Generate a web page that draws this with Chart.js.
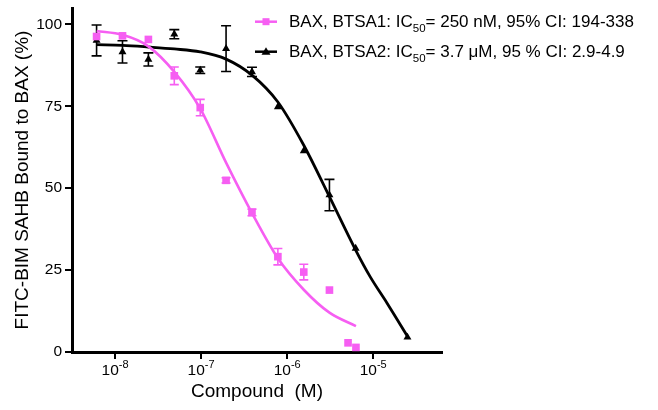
<!DOCTYPE html>
<html>
<head>
<meta charset="utf-8">
<script src="https://cdn.jsdelivr.net/npm/chart.js@4.4.1/dist/chart.umd.min.js"></script>
<style>
  html, body { margin: 0; padding: 0; background: #fff; }
</style>
</head>
<body>
<canvas id="myChart" width="658" height="410"></canvas>
<script>
// concentrations (M), serial 2-fold dilution
const concBTSA1 = [6.1e-9, 1.22e-8, 2.44e-8, 4.88e-8, 9.77e-8, 1.95e-7, 3.9e-7, 7.8e-7, 1.56e-6, 3.1e-6, 5.1e-6, 6.3e-6];
const boundBTSA1 = [96.3, 96.5, 95.4, 84.3, 74.6, 52.4, 42.6, 29.1, 24.4, 18.9, 2.8, 1.4];
const errBTSA1 = [0, 0, 0, 2.7, 2.5, 0.8, 1.0, 2.5, 2.4, 0, 0, 0];

const concBTSA2 = [6.1e-9, 1.22e-8, 2.44e-8, 4.88e-8, 9.77e-8, 1.95e-7, 3.9e-7, 7.8e-7, 1.56e-6, 3.1e-6, 6.25e-6, 2.5e-5];
const boundBTSA2 = [95.1, 91.6, 89.3, 97.0, 86.0, 92.6, 85.5, 74.8, 61.4, 47.9, 31.6, 4.5];
const errBTSA2 = [4.7, 3.4, 2.0, 1.4, 1.0, 7.0, 1.4, 0, 0, 4.8, 0, 0];

// fitted curves
const fitConcBTSA1 = [6.1e-9, 1.22e-8, 2.44e-8, 4.88e-8, 9.77e-8, 1.95e-7, 3.9e-7, 7.8e-7, 1.56e-6, 3.1e-6, 6.3e-6];
const fitBTSA1 = [98.0, 96.8, 93.3, 85.5, 74.3, 57.8, 42.4, 28.6, 19.0, 12.0, 7.9];
const fitConcBTSA2 = [6.1e-9, 1.22e-8, 2.44e-8, 4.88e-8, 9.77e-8, 1.95e-7, 3.9e-7, 7.8e-7, 1.56e-6, 3.1e-6, 6.25e-6, 9.2e-6, 1.45e-5, 2.5e-5];
const fitBTSA2 = [93.8, 93.6, 93.1, 92.5, 91.6, 89.4, 84.5, 76.3, 63.1, 47.4, 31.1, 23.0, 14.9, 4.8];

const xTickValues = [1e-8, 1e-7, 1e-6, 1e-5];
const xTickBase = '10';
const xTickExps = ['-8', '-7', '-6', '-5'];
const yTickValues = [0, 25, 50, 75, 100];

const legendRows = [
  { pre: 'BAX, BTSA1: IC', sub: '50', post: '= 250 nM, 95% CI: 194-338' },
  { pre: 'BAX, BTSA2: IC', sub: '50', post: '= 3.7 \u03BCM, 95 % CI: 2.9-4.9' }
];

const pink = '#f65ef2';
const fontFam = "'Liberation Sans', Arial, sans-serif";

function toPoints(xs, ys) {
  return xs.map((x, i) => ({ x: x, y: ys[i] }));
}

const errorBars = {
  id: 'errorBars',
  beforeDatasetsDraw(chart) {
    const c = chart.ctx;
    const xs = chart.scales.x, ys = chart.scales.y;
    chart.data.datasets.forEach(ds => {
      if (!ds.errors) return;
      c.save();
      c.strokeStyle = ds.borderColor;
      c.lineWidth = 1.6;
      ds.data.forEach((p, i) => {
        const e = ds.errors[i];
        if (!e) return;
        const x = xs.getPixelForValue(p.x);
        const yTop = ys.getPixelForValue(p.y + e);
        const yBot = ys.getPixelForValue(p.y - e);
        const cap = ds.capHalf;
        c.beginPath();
        c.moveTo(x, yTop); c.lineTo(x, yBot);
        c.moveTo(x - cap, yTop); c.lineTo(x + cap, yTop);
        c.moveTo(x - cap, yBot); c.lineTo(x + cap, yBot);
        c.stroke();
      });
      c.restore();
    });
  }
};

// x tick labels with real superscripts
const powerLabels = {
  id: 'powerLabels',
  afterDraw(chart) {
    const c = chart.ctx;
    const xs = chart.scales.x;
    const baseY = xs.top + 23;
    c.save();
    c.fillStyle = '#000';
    c.textBaseline = 'alphabetic';
    c.textAlign = 'left';
    xTickValues.forEach((v, i) => {
      const px = xs.getPixelForValue(v);
      c.font = '15.5px ' + fontFam;
      const wb = c.measureText(xTickBase).width;
      c.font = '11px ' + fontFam;
      const we = c.measureText(xTickExps[i]).width;
      const x0 = px - (wb + we) / 2;
      c.font = '15.5px ' + fontFam;
      c.fillText(xTickBase, x0, baseY);
      c.font = '11px ' + fontFam;
      c.fillText(xTickExps[i], x0 + wb, baseY - 7);
    });
    c.restore();
  }
};

const fitLegend = {
  id: 'fitLegend',
  afterDraw(chart) {
    const c = chart.ctx;
    const styles = [
      { color: pink, marker: 'rect' },
      { color: '#000', marker: 'triangle' }
    ];
    legendRows.forEach((row, i) => {
      const base = 26.7 + i * 30;
      const my = base - 5;
      const st = styles[i];
      c.save();
      c.strokeStyle = st.color;
      c.fillStyle = st.color;
      c.lineWidth = 2.5;
      c.beginPath();
      c.moveTo(255, my); c.lineTo(277, my);
      c.stroke();
      if (st.marker === 'rect') {
        c.fillRect(262.5, my - 3.5, 7, 7);
      } else {
        c.beginPath();
        c.moveTo(266, my - 4.5);
        c.lineTo(270.5, my + 3);
        c.lineTo(261.5, my + 3);
        c.closePath();
        c.fill();
      }
      c.fillStyle = '#000';
      c.textBaseline = 'alphabetic';
      c.textAlign = 'left';
      let x = 289;
      c.font = '17px ' + fontFam;
      c.fillText(row.pre, x, base);
      x += c.measureText(row.pre).width;
      c.font = '11.5px ' + fontFam;
      c.fillText(row.sub, x, base + 5);
      x += c.measureText(row.sub).width;
      c.font = '17px ' + fontFam;
      c.fillText(row.post, x, base);
      c.restore();
    });
  }
};

const ctx = document.getElementById('myChart');
const chart = new Chart(ctx, {
  type: 'scatter',
  data: {
    datasets: [
      {
        label: 'BAX, BTSA1',
        data: toPoints(concBTSA1, boundBTSA1),
        errors: errBTSA1,
        capHalf: 4.5,
        pointStyle: 'rect',
        pointRadius: 5.4,
        backgroundColor: pink,
        borderColor: pink,
        borderWidth: 0,
        showLine: false
      },
      {
        label: 'BAX, BTSA2',
        data: toPoints(concBTSA2, boundBTSA2),
        errors: errBTSA2,
        capHalf: 5,
        pointStyle: 'triangle',
        pointRadius: 4.6,
        backgroundColor: '#000',
        borderColor: '#000',
        borderWidth: 0,
        showLine: false
      },
      {
        label: 'fit BTSA1',
        data: toPoints(fitConcBTSA1, fitBTSA1),
        showLine: true,
        pointRadius: 0,
        borderColor: pink,
        borderWidth: 2.6,
        cubicInterpolationMode: 'monotone'
      },
      {
        label: 'fit BTSA2',
        data: toPoints(fitConcBTSA2, fitBTSA2),
        showLine: true,
        pointRadius: 0,
        borderColor: '#000',
        borderWidth: 2.8,
        cubicInterpolationMode: 'monotone'
      }
    ]
  },
  options: {
    responsive: false,
    animation: false,
    layout: { padding: { left: 0, right: 216, top: 8, bottom: 0 } },
    plugins: { legend: { display: false }, tooltip: { enabled: false } },
    scales: {
      x: {
        type: 'logarithmic',
        min: 3.16e-9,
        max: 6.3e-5,
        afterBuildTicks: scale => { scale.ticks = xTickValues.map(v => ({ value: v })); },
        afterFit: scale => { scale.height = 58; scale.paddingLeft = 0; scale.paddingRight = 0; },
        ticks: { display: false, autoSkip: false },
        grid: { display: true, drawOnChartArea: false, drawTicks: true, tickLength: 7, lineWidth: 2, color: '#000' },
        border: { display: true, width: 3, color: '#000' },
        title: {
          display: true,
          text: 'Compound  (M)',
          color: '#000',
          font: { size: 19, family: fontFam },
          padding: { top: 0, bottom: 7 }
        }
      },
      y: {
        min: 0,
        max: 105,
        afterBuildTicks: scale => { scale.ticks = yTickValues.map(v => ({ value: v })); },
        afterFit: scale => { scale.width = 72; scale.paddingTop = 0; scale.paddingBottom = 0; },
        ticks: {
          color: '#000',
          font: { size: 15.5, family: fontFam },
          padding: 3
        },
        grid: { display: true, drawOnChartArea: false, drawTicks: true, tickLength: 7, lineWidth: 2, color: '#000' },
        border: { display: true, width: 3, color: '#000' },
        title: {
          display: true,
          text: 'FITC-BIM SAHB Bound to BAX (%)',
          color: '#000',
          font: { size: 19, family: fontFam },
          padding: { top: 11, bottom: 0 }
        }
      }
    }
  },
  plugins: [errorBars, powerLabels, fitLegend]
});
</script>
</body>
</html>
